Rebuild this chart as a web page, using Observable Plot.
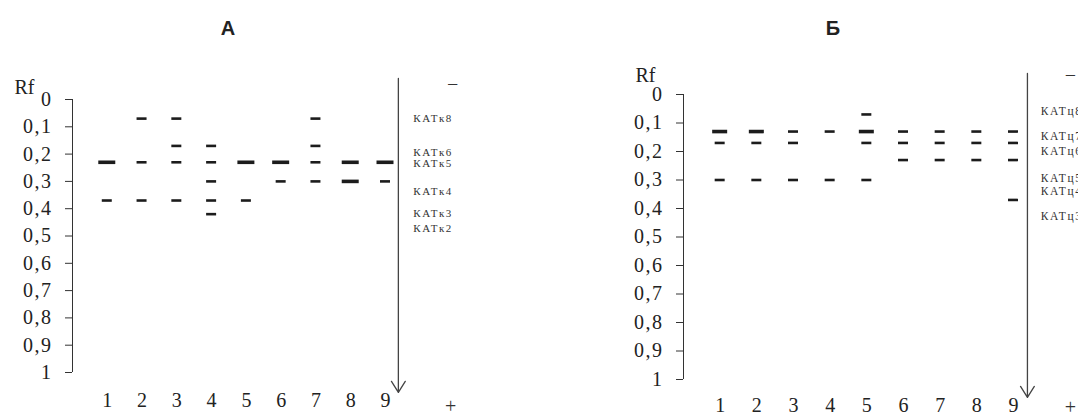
<!DOCTYPE html>
<html><head><meta charset="utf-8">
<script src="https://cdn.jsdelivr.net/npm/d3@7"></script>
<script src="https://cdn.jsdelivr.net/npm/@observablehq/plot@0.6"></script>
<style>
body{margin:0;background:#fff;}
#wrap{display:flex;width:1078px;height:414px;overflow:hidden;position:relative;}
.panel{position:relative;width:539px;height:414px;flex:none;}
.title{position:absolute;top:0;height:40px;font-family:"Liberation Sans",Arial,sans-serif;font-weight:bold;font-size:20px;line-height:56px;color:#222;transform:translateX(-50%);}
.panel svg{position:absolute;top:40px;left:0;overflow:visible;}
</style></head><body>
<div id="wrap">
  <div class="panel" id="pA"><div class="title" style="left:228px">А</div></div>
  <div class="panel" id="pB"><div class="title" style="left:294px">Б</div></div>
</div>
<script>
// ---- data ----
const lanes = [1, 2, 3, 4, 5, 6, 7, 8, 9];
const yTicks = [0, 0.1, 0.2, 0.3, 0.4, 0.5, 0.6, 0.7, 0.8, 0.9, 1];
const yTickLabels = ["0", "0,1", "0,2", "0,3", "0,4", "0,5", "0,6", "0,7", "0,8", "0,9", "1"];

// bands: [lane, Rf, thick(1)/thin(0)]
const bandsA = [
  [1, 0.23, 1], [1, 0.37, 0],
  [2, 0.07, 0], [2, 0.23, 0], [2, 0.37, 0],
  [3, 0.07, 0], [3, 0.17, 0], [3, 0.23, 0], [3, 0.37, 0],
  [4, 0.17, 0], [4, 0.23, 0], [4, 0.30, 0], [4, 0.37, 0], [4, 0.42, 0],
  [5, 0.23, 1], [5, 0.37, 0],
  [6, 0.23, 1], [6, 0.30, 0],
  [7, 0.07, 0], [7, 0.17, 0], [7, 0.23, 0], [7, 0.30, 0],
  [8, 0.23, 1], [8, 0.30, 1],
  [9, 0.23, 1], [9, 0.30, 0]
];
const bandsB = [
  [1, 0.13, 1], [1, 0.17, 0], [1, 0.30, 0],
  [2, 0.13, 1], [2, 0.17, 0], [2, 0.30, 0],
  [3, 0.13, 0], [3, 0.17, 0], [3, 0.30, 0],
  [4, 0.13, 0], [4, 0.30, 0],
  [5, 0.07, 0], [5, 0.13, 1], [5, 0.17, 0], [5, 0.30, 0],
  [6, 0.13, 0], [6, 0.17, 0], [6, 0.23, 0],
  [7, 0.13, 0], [7, 0.17, 0], [7, 0.23, 0],
  [8, 0.13, 0], [8, 0.17, 0], [8, 0.23, 0],
  [9, 0.13, 0], [9, 0.17, 0], [9, 0.23, 0], [9, 0.37, 0]
];
const labelsA = ["КАТк8", "КАТк6", "КАТк5", "КАТк4", "КАТк3", "КАТк2"];
const labelRfA = [0.07, 0.193, 0.233, 0.337, 0.418, 0.472];
const labelsB = ["КАТц8", "КАТц7", "КАТц6", "КАТц5", "КАТц4", "КАТц3"];
const labelRfB = [0.06, 0.147, 0.199, 0.293, 0.341, 0.428];

// ---- layout ----
const cfgA = {
  bands: bandsA, labels: labelsA, labelRf: labelRfA,
  marginLeft: 72, marginRight: 154, marginTop: 59, marginBottom: 42,
  thin: 5, thick: 8.5, labelX: 9.80, labelSize: 11, laneDy: 28,
  arrow: {x: 9.37, y1: -0.077, y2: 1.073},
  minus: {x: 10.93, y: -0.055}, plus: {x: 10.87, y: 1.125},
  rf: {dx: -48, dy: -12}
};
const cfgB = {
  bands: bandsB, labels: labelsB, labelRf: labelRfB,
  marginLeft: 144, marginRight: 65, marginTop: 54, marginBottom: 35,
  thin: 5, thick: 7.5, labelX: 9.74, labelSize: 11.5, laneDy: 26,
  arrow: {x: 9.38, y1: -0.074, y2: 1.063},
  minus: {x: 10.55, y: -0.067}, plus: {x: 10.55, y: 1.100},
  rf: {dx: -38, dy: -19}
};

function makePanel(c) {
  const W = 539, H = 374;
  const pxPerLane = (W - c.marginLeft - c.marginRight) / 9;
  const hw = d => (d[2] ? c.thick : c.thin) / pxPerLane;
  const ink = "#1c1c1c";
  const svg = Plot.plot({
    width: W, height: H,
    marginLeft: c.marginLeft, marginRight: c.marginRight,
    marginTop: c.marginTop, marginBottom: c.marginBottom,
    style: {fontFamily: "'Liberation Serif', 'Times New Roman', serif", fontSize: "20px", color: "#222", background: "transparent"},
    x: {domain: [0, 9], axis: null},
    y: {domain: [0, 1], reverse: true, axis: null},
    marks: [
      Plot.ruleX([0], {y1: 0, y2: 1, stroke: "#333", strokeWidth: 1}),
      Plot.axisY(yTicks, {anchor: "left", tickSize: 7, tickPadding: 13, stroke: "#333",
        tickFormat: (d) => yTickLabels[yTicks.indexOf(d)], fontSize: 20, fill: "#222", className: "ytl"}),
      Plot.text(["Rf"], {x: 0, y: 0, dx: c.rf.dx, dy: c.rf.dy, text: d => d, fontSize: 20, fill: "#222"}),
      Plot.ruleY(c.bands, {
        y: d => d[1], x1: d => d[0] - hw(d), x2: d => d[0] + hw(d),
        stroke: ink, strokeWidth: d => d[2] ? 3.6 : 2.6
      }),
      Plot.text(lanes, {x: d => d, y: 1, dy: c.laneDy, text: d => String(d), fontSize: 20, fill: "#222"}),
      Plot.arrow([c.arrow], {x1: "x", x2: "x", y1: "y1", y2: "y2", stroke: "#444", strokeWidth: 1.3, headLength: 15, headAngle: 64}),
      Plot.text(c.labels, {x: c.labelX, y: (d, i) => c.labelRf[i], text: d => d, textAnchor: "start", fontSize: c.labelSize, fill: "#333", className: "katl"}),
      Plot.text(["−"], {x: c.minus.x, y: c.minus.y, text: d => d, fontSize: 20, fill: "#333"}),
      Plot.text(["+"], {x: c.plus.x, y: c.plus.y, text: d => d, fontSize: 20, fill: "#333"})
    ]
  });
  d3.select(svg).selectAll(".katl text").attr("letter-spacing", "1.6px");
  d3.select(svg).selectAll(".ytl text").attr("letter-spacing", "1.5px");
  return svg;
}
document.getElementById("pA").appendChild(makePanel(cfgA));
document.getElementById("pB").appendChild(makePanel(cfgB));
</script>
</body></html>
